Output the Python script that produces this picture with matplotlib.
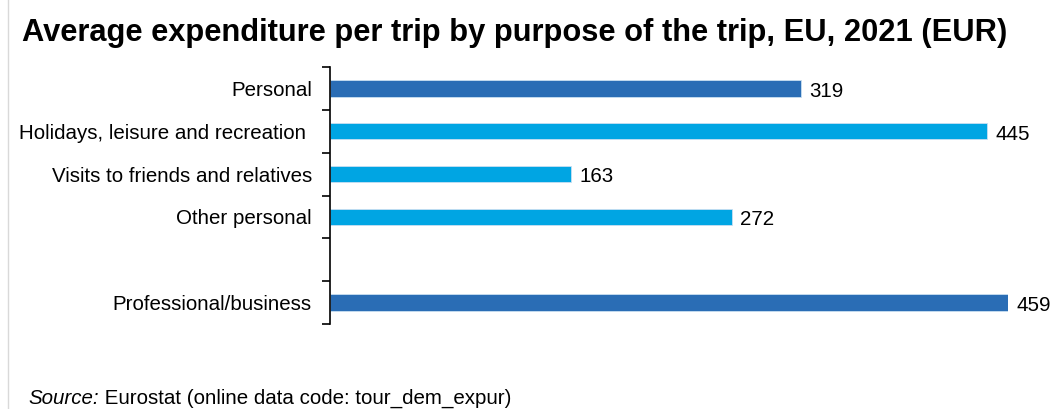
import numpy as np
import matplotlib
matplotlib.use("Agg")
import matplotlib.pyplot as plt
from matplotlib.lines import Line2D

categories = ["Personal", "Holidays, leisure and recreation ", "Visits to friends and relatives",
              "Other personal", "", "Professional/business"]
values = [319, 445, 163, 272, np.nan, 459]
bar_colors = ["#2a6db5", "#00a5e3", "#00a5e3", "#00a5e3", "#00a5e3", "#2a6db5"]
value_labels = ["319", "445", "163", "272", "", "459"]

title = "Average expenditure per trip by purpose of the trip, EU, 2021 (EUR)"
source_label = "Source:"
source_text = " Eurostat (online data code: tour_dem_expur)"

plt.rcParams['font.family'] = ['Liberation Sans', 'DejaVu Sans']
FS = 14.8

fig = plt.figure(figsize=(10.51, 4.09), dpi=100)
ax = fig.add_axes([330 / 1051, 1 - 324 / 409, (1008 - 330) / 1051, (324 - 67) / 409])

y = np.arange(len(categories))
ax.barh(y, values, height=0.38, color=bar_colors, edgecolor='#c9dff2', linewidth=0.6)

ax.set_xlim(0, 459)
ax.set_ylim(len(categories) - 0.5, -0.5)

ax.set_yticks(y)
ax.set_yticklabels(categories, fontsize=FS)
ax.tick_params(axis='y', which='major', length=0, pad=13)
ax.set_yticks(np.arange(-0.5, len(categories), 1.0), minor=True)
ax.tick_params(axis='y', which='minor', length=6, width=1.2, direction='out', color='black')

ax.set_xticks([])
for s in ['top', 'right', 'bottom']:
    ax.spines[s].set_visible(False)
ax.spines['left'].set_linewidth(1.2)
ax.spines['left'].set_color('black')

for yi, v, lab in zip(y, values, value_labels):
    if lab:
        ax.annotate(lab, (v, yi), xytext=(6, -2), textcoords='offset points',
                    ha='left', va='center', fontsize=FS, annotation_clip=False)

fig.text(22 / 1051, 1 - 33 / 409, title, fontsize=22.2, fontweight='bold', ha='left', va='center')

t1 = fig.text(28 / 1051, 1 - 404 / 409, source_label, fontsize=FS, ha='left', va='baseline', style='italic')
fig.canvas.draw()
w = t1.get_window_extent(renderer=fig.canvas.get_renderer()).width
fig.text(28 / 1051 + w / fig.bbox.width, 1 - 404 / 409, source_text, fontsize=FS, ha='left', va='baseline')

fig.add_artist(Line2D([8 / 1051, 8 / 1051], [0, 1], transform=fig.transFigure, color='#d9d9d9', linewidth=1))

fig.savefig("out.png", dpi=100)
